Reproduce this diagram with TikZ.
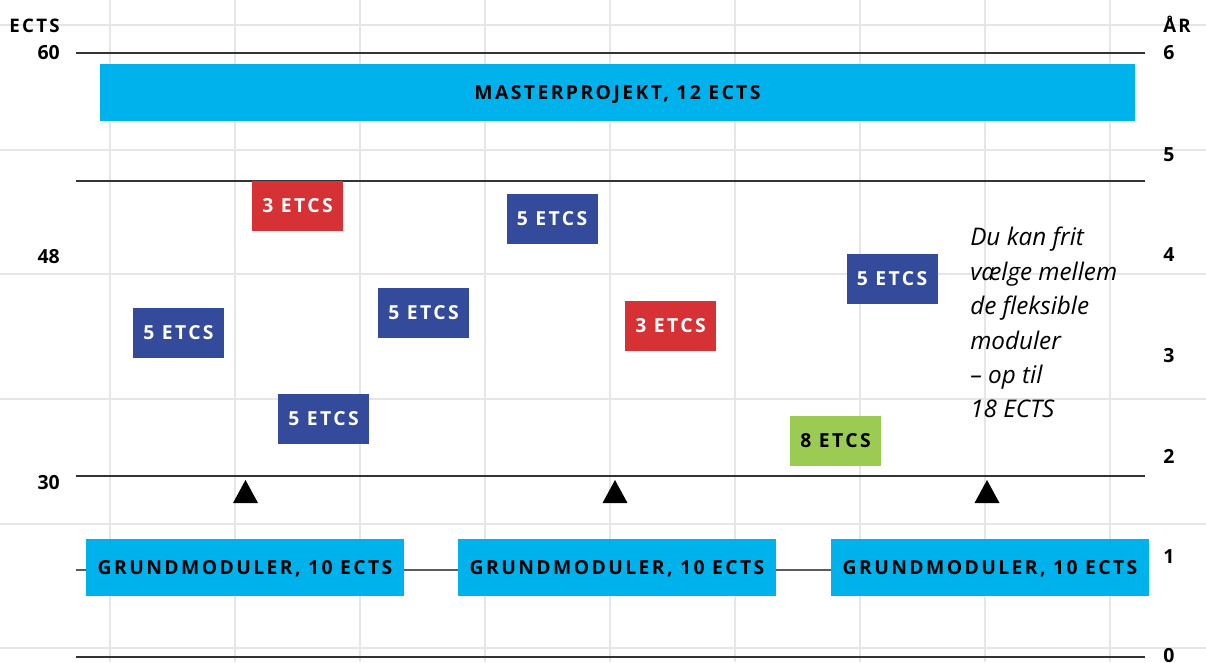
\documentclass[tikz,border=0pt]{standalone}
\usepackage{fontspec}
\setmainfont{Open Sans}
\newfontfamily\lsfont[LetterSpace=12.5]{Open Sans}
\definecolor{cyanbox}{HTML}{00B2EC}
\definecolor{bluebox}{HTML}{344A9B}
\definecolor{redbox}{HTML}{D63135}
\definecolor{greenbox}{HTML}{9CCB53}
\definecolor{gridgrey}{HTML}{E6E6E6}
\definecolor{axisline}{HTML}{333333}
\tikzset{
  gridline/.style={draw=gridgrey, line width=1.1pt},
  axline/.style={draw=axisline, line width=0.9pt},
  midline/.style={draw=axisline!80, line width=0.8pt},
  boxtext/.style={font=\lsfont\bfseries\fontsize{14.5}{17}\selectfont, text height=10.4pt, text depth=0pt},
  bigbox/.style={boxtext, fill=cyanbox, text=black, inner sep=0pt, minimum height=42.75pt},
  smallbox/.style={boxtext, inner sep=0pt, minimum width=68.25pt, minimum height=37.5pt},
  bluemod/.style={smallbox, fill=bluebox, text=white},
  redmod/.style={smallbox, fill=redbox, text=white},
  greenmod/.style={smallbox, fill=greenbox, text=black},
  axnum/.style={font=\bfseries\fontsize{14.6}{16}\selectfont, inner sep=0pt},
  axtitle/.style={font=\lsfont\bfseries\fontsize{14}{16}\selectfont, inner sep=0pt},
  marker/.style={fill=black},
}
\begin{document}
\begin{tikzpicture}[x=0.75pt,y=-0.75pt]
\useasboundingbox (0,0) rectangle (1206,662);
\fill[white] (0,0) rectangle (1206,662);
% grid
\foreach \gx in {110,235,360,485,610,735,860,985,1110}
  \draw[gridline] (\gx,0) -- (\gx,662);
\foreach \gy in {25,150,274,399,524,648}
  \draw[gridline] (0,\gy) -- (1206,\gy);
% axis lines
\foreach \ly in {53,181,476,657}
  \draw[axline] (76,\ly) -- (1145,\ly);
\coordinate (ml) at (76,570);
\coordinate (mr) at (1145,570);
\draw[midline] (ml) -- (mr);
% big boxes
\node[bigbox, minimum width=776.25pt] (master) at (617.5,92.5) {MASTERPROJEKT, 12 ECTS};
\node[bigbox, minimum width=238.5pt] (g1) at (245,567.5) {GRUNDMODULER, 10 ECTS};
\node[bigbox, minimum width=238.5pt] (g2) at (617,567.5) {GRUNDMODULER, 10 ECTS};
\node[bigbox, minimum width=238.5pt] (g3) at (990,567.5) {GRUNDMODULER, 10 ECTS};
% small modules
\node[redmod] (r1) at (297.5,206) {3 ETCS};
\node[bluemod] (b1) at (552,218.5) {5 ETCS};
\node[bluemod] (b2) at (892,278.5) {5 ETCS};
\node[bluemod] (b3) at (423.5,313) {5 ETCS};
\node[bluemod] (b4) at (178.5,332.5) {5 ETCS};
\node[redmod] (r2) at (670.5,326) {3 ETCS};
\node[bluemod] (b5) at (323.5,419) {5 ETCS};
\node[greenmod] (gr) at (835.5,441) {8 ETCS};
% markers
\foreach \tx in {245.5,615,987}
  \fill[marker] (\tx-12.5,503) -- (\tx+12.5,503) -- (\tx,480) -- cycle;
% note
\node[anchor=north west, inner sep=0pt, align=left,
      font=\itshape\fontsize{18.2}{25.8}\selectfont] (note) at (970,227)
  {Du kan frit\\vælge mellem\\de fleksible\\moduler\\– op til\\18 ECTS};
% left axis
\node[axtitle, anchor=base east] (lt) at (60,32) {ECTS};
\node[axnum, anchor=east] (l60) at (60,53) {60};
\node[axnum, anchor=east] (l48) at (60,257) {48};
\node[axnum, anchor=east] (l30) at (60,483) {30};
% right axis
\node[axtitle, anchor=base west] (rt) at (1163,32) {ÅR};
\node[axnum, anchor=west] (r6) at (1163,53) {6};
\node[axnum, anchor=west] (r5) at (1163,155) {5};
\node[axnum, anchor=west] (r4) at (1163,255) {4};
\node[axnum, anchor=west] (r3) at (1163,356) {3};
\node[axnum, anchor=west] (r2n) at (1163,456) {2};
\node[axnum, anchor=west] (r1n) at (1163,557) {1};
\node[axnum, anchor=west] (r0) at (1163,656) {0};
\end{tikzpicture}
\end{document}
